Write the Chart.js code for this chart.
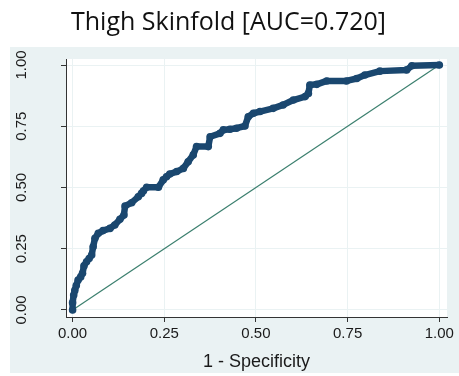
<!DOCTYPE html>
<html>
<head>
<meta charset="utf-8">
<script src="https://cdn.jsdelivr.net/npm/chart.js@4/dist/chart.umd.min.js"></script>
<style>
  html, body { margin: 0; padding: 0; background: #fff; }
  #wrap { width: 459px; height: 376px; }
</style>
</head>
<body>
<div id="wrap"><canvas id="roc"></canvas></div>
<script>
// ROC curve for thigh skinfold: 1 - specificity vs sensitivity
var fpr = [0, 0, 0.003, 0.006, 0.010, 0.015, 0.022, 0.027, 0.031, 0.038, 0.045, 0.052, 0.056, 0.061,
  0.070, 0.083, 0.102, 0.115, 0.129, 0.140, 0.143, 0.161, 0.179, 0.188, 0.193, 0.202, 0.234, 0.247,
  0.256, 0.265, 0.284, 0.302, 0.315, 0.329, 0.338, 0.370, 0.375, 0.402, 0.411, 0.429, 0.447, 0.470,
  0.479, 0.493, 0.511, 0.547, 0.574, 0.602, 0.634, 0.643, 0.647, 0.666, 0.693, 0.747, 0.775, 0.797,
  0.838, 0.911, 0.925, 1];
var tpr = [0, 0.030, 0.061, 0.080, 0.100, 0.122, 0.135, 0.150, 0.180, 0.197, 0.210, 0.224, 0.258, 0.293,
  0.313, 0.324, 0.333, 0.347, 0.370, 0.388, 0.424, 0.438, 0.462, 0.476, 0.486, 0.501, 0.501, 0.531,
  0.544, 0.555, 0.565, 0.578, 0.605, 0.633, 0.667, 0.667, 0.707, 0.721, 0.735, 0.738, 0.742, 0.751,
  0.789, 0.803, 0.810, 0.823, 0.837, 0.857, 0.871, 0.884, 0.918, 0.921, 0.935, 0.935, 0.945, 0.959,
  0.975, 0.980, 0.997, 1];
// chance line
var refX = [0, 1];
var refY = [0, 1];
var tickVals = [0, 0.25, 0.5, 0.75, 1];

var chartTitle = 'Thigh Skinfold [AUC=0.720]';
var xTitle = '1 - Specificity';

var navy = '#1a476f';
var teal = '#3b7f6e';
var bluishGray = '#eaf2f3';
var axisColor = '#333333';

function toPoints(xs, ys) {
  var pts = [];
  for (var i = 0; i < xs.length; i++) pts.push({x: xs[i], y: ys[i]});
  return pts;
}

// stata-like panel: grey outer region, white plot region
var panelBg = {
  id: 'panelBg',
  beforeDraw: function(chart) {
    var ctx = chart.ctx, a = chart.chartArea;
    ctx.save();
    ctx.fillStyle = '#ffffff';
    ctx.fillRect(0, 0, chart.width, chart.height);
    ctx.fillStyle = bluishGray;
    ctx.fillRect(10, 47, chart.width - 10, 326);
    ctx.fillStyle = '#ffffff';
    ctx.fillRect(a.left, a.top, a.right - a.left, a.bottom - a.top);
    ctx.restore();
  }
};

// vertical tick labels on the y axis
var yLabels = {
  id: 'yLabels',
  afterDraw: function(chart) {
    var ctx = chart.ctx, scale = chart.scales.y;
    ctx.save();
    ctx.fillStyle = '#1a1a1a';
    ctx.font = '15px "Liberation Sans", Arial, sans-serif';
    ctx.textAlign = 'center';
    ctx.textBaseline = 'alphabetic';
    scale.ticks.forEach(function(t) {
      var py = scale.getPixelForValue(t.value);
      ctx.save();
      ctx.translate(26, py);
      ctx.rotate(-Math.PI / 2);
      ctx.fillText(t.value.toFixed(2), 0, 0);
      ctx.restore();
    });
    ctx.restore();
  }
};

new Chart(document.getElementById('roc'), {
  type: 'scatter',
  data: {
    datasets: [
      {
        label: 'ROC',
        data: toPoints(fpr, tpr),
        showLine: true,
        borderColor: navy,
        backgroundColor: navy,
        borderWidth: 6.5,
        borderJoinStyle: 'round',
        borderCapStyle: 'round',
        pointRadius: 3.8,
        pointBorderWidth: 0,
        pointBackgroundColor: navy
      },
      {
        label: 'Reference',
        data: toPoints(refX, refY),
        showLine: true,
        borderColor: teal,
        borderWidth: 1.2,
        pointRadius: 0
      }
    ]
  },
  options: {
    responsive: true,
    maintainAspectRatio: false,
    animation: false,
    events: [],
    layout: { padding: { left: 10, right: 12, top: 0, bottom: 3 } },
    plugins: {
      legend: { display: false },
      tooltip: { enabled: false },
      title: {
        display: true,
        text: chartTitle,
        color: '#111111',
        font: { family: '"Open Sans", sans-serif', size: 25, weight: 'normal' },
        padding: { top: 8, bottom: 21 }
      }
    },
    scales: {
      x: {
        type: 'linear',
        min: -0.018,
        max: 1.021,
        afterFit: function(s) { s.height = 56; },
        afterBuildTicks: function(s) { s.ticks = tickVals.map(function(v) { return {value: v}; }); },
        ticks: {
          includeBounds: false,
          color: '#1a1a1a',
          padding: 3,
          font: { family: '"Liberation Sans", Arial, sans-serif', size: 15 },
          callback: function(v) { return Number(v).toFixed(2); }
        },
        grid: { color: bluishGray, lineWidth: 1, tickColor: axisColor, tickLength: 5, drawTicks: true },
        border: { display: true, color: axisColor, width: 1 },
        title: {
          display: true,
          text: xTitle,
          color: '#1a1a1a',
          font: { family: '"Liberation Sans", Arial, sans-serif', size: 18 },
          padding: { top: 2, bottom: 0 }
        }
      },
      y: {
        type: 'linear',
        min: -0.0286,
        max: 1.0245,
        afterFit: function(s) { s.width = 56; },
        afterBuildTicks: function(s) { s.ticks = tickVals.map(function(v) { return {value: v}; }); },
        ticks: { display: false, includeBounds: false },
        grid: { color: bluishGray, lineWidth: 1, tickColor: axisColor, tickLength: 5, drawTicks: true },
        border: { display: true, color: axisColor, width: 1 }
      }
    }
  },
  plugins: [panelBg, yLabels]
});
</script>
</body>
</html>
